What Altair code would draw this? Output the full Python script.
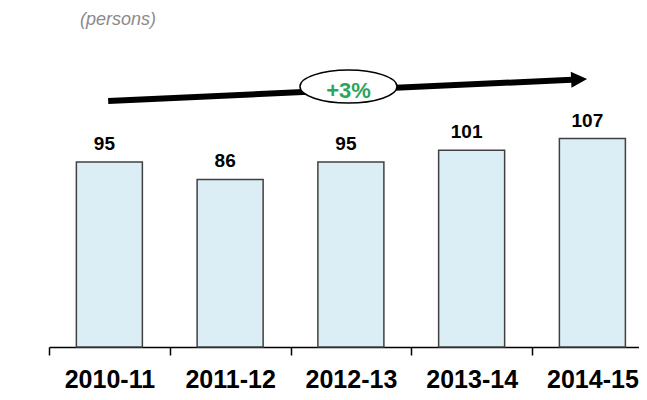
import json
import altair as alt
import pandas as pd

# ---- data ----
years = ["2010-11", "2011-12", "2012-13", "2013-14", "2014-15"]
values = [95, 86, 95, 101, 107]
unit_label = "(persons)"
growth_label = "+3%"

# ---- annotation placement (in scale units: x = category slot, y = persons) ----
arrow_x_start, arrow_x_end = 0.49, 4.33
arrow_y_start, arrow_y_end = 126.3, 137.2
head_x, head_y = 4.39, 137.4
badge_x, badge_y = 2.48, 133.7

FONT = "Liberation Sans"
BAR_HALF = 0.2733  # half bar width as a fraction of the slot

df = pd.DataFrame({"year": years, "value": values, "slot": list(range(len(years)))})
one = pd.DataFrame({"k": [0]})

label_expr = "%s[datum.value]" % json.dumps(years)

x_scale = alt.Scale(domain=[0, 4.886], nice=False, zero=False)
y_scale = alt.Scale(domain=[0, 154], nice=False, zero=True)

x_axis = alt.Axis(
    title=None,
    values=list(range(len(years))),
    labelExpr=label_expr,
    labelOffset=60.4,
    labelFlush=False,
    labelOverlap=False,
    labelBound=False,
    labelAngle=0,
    labelAlign="center",
    labelFont=FONT,
    labelFontSize=25,
    labelFontWeight="bold",
    labelColor="black",
    labelBaseline="alphabetic",
    labelPadding=32,
    tickSize=8,
    tickColor="black",
    tickWidth=1.5,
    domainColor="black",
    domainWidth=1.5,
    grid=False,
)

base = alt.Chart(df).transform_calculate(
    x0="datum.slot + 0.5 - %f" % BAR_HALF,
    x1="datum.slot + 0.5 + %f" % BAR_HALF,
    xc="datum.slot + 0.5",
)

bars = base.mark_bar(
    fill="#dbeef5",
    stroke="#404040",
    strokeWidth=1.5,
).encode(
    x=alt.X("x0:Q", scale=x_scale, axis=x_axis),
    x2="x1:Q",
    y=alt.Y("value:Q", scale=y_scale, axis=None),
    y2=alt.datum(0),
)

bar_labels = base.mark_text(
    font=FONT,
    fontSize=19,
    fontWeight="bold",
    color="black",
    baseline="alphabetic",
    dy=-12,
    dx=-5,
).encode(x="xc:Q", y="value:Q", text="value:Q")

arrow_shaft = alt.Chart(one).mark_rule(
    color="black", strokeWidth=6, strokeCap="butt"
).encode(
    x=alt.datum(arrow_x_start),
    x2=alt.datum(arrow_x_end),
    y=alt.datum(arrow_y_start),
    y2=alt.datum(arrow_y_end),
)

arrow_head = alt.Chart(one).mark_point(
    shape="M-1,-1L1,0L-1,1Z",
    size=256,
    filled=True,
    fill="black",
    opacity=1,
    angle=357.4,
).encode(x=alt.datum(head_x), y=alt.datum(head_y))

badge = alt.Chart(one).mark_point(
    shape="M-1,0A1,0.34 0 1,1 1,0A1,0.34 0 1,1 -1,0Z",
    size=9409,
    fill="white",
    fillOpacity=1,
    stroke="black",
    strokeWidth=1.5,
    opacity=1,
).encode(x=alt.datum(badge_x), y=alt.datum(badge_y))

badge_text = alt.Chart(one).mark_text(
    text=growth_label,
    font=FONT,
    fontSize=22,
    fontWeight="bold",
    color="#2aa65c",
    baseline="alphabetic",
    dy=11,
).encode(x=alt.datum(badge_x), y=alt.datum(badge_y))

unit_text = alt.Chart(one).mark_text(
    text=unit_label,
    font=FONT,
    fontSize=18,
    fontStyle="italic",
    color="#8a8a8a",
    align="left",
    baseline="alphabetic",
).encode(x=alt.value(31), y=alt.value(-22))

chart = (
    alt.layer(bars, bar_labels, arrow_shaft, arrow_head, badge, badge_text, unit_text)
    .properties(
        width=590,
        height=300,
        autosize=alt.AutoSizeParams(type="none"),
        padding={"left": 41, "top": 39, "right": 0, "bottom": 45},
        background="white",
    )
    .configure_view(stroke=None)
)

chart.save("out.html", embed_options={"renderer": "svg", "actions": False})
